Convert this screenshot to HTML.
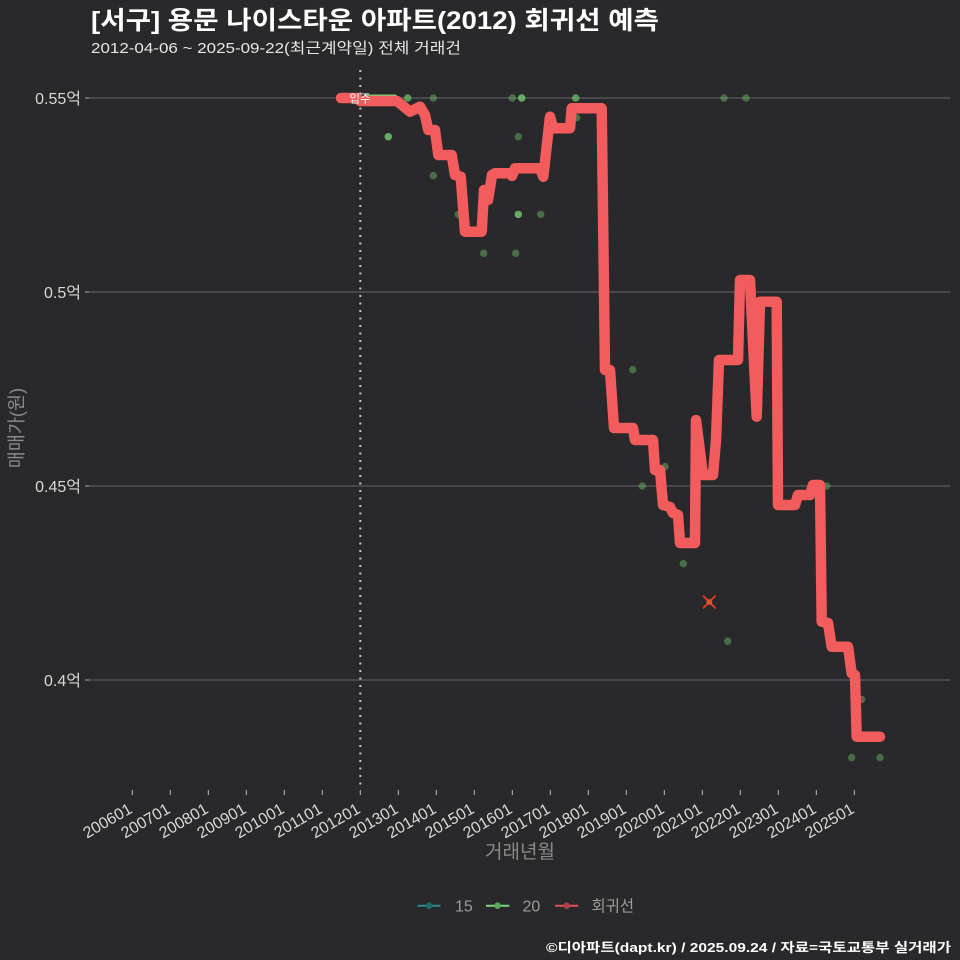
<!DOCTYPE html>
<html><head><meta charset="utf-8"><style>
html,body{margin:0;padding:0;background:#29292b;}
svg{display:block;}
text{font-family:"Liberation Sans","Noto Sans CJK KR",sans-serif;}
</style></head><body>
<svg width="960" height="960" viewBox="0 0 960 960" xmlns="http://www.w3.org/2000/svg">
<rect x="0" y="0" width="960" height="960" fill="#29292b"/>

<!-- titles -->
<text x="91" y="29" font-size="25" font-weight="bold" fill="#ffffff" textLength="568" lengthAdjust="spacingAndGlyphs">[서구] 용문 나이스타운 아파트(2012) 회귀선 예측</text>
<text x="91" y="53" font-size="15" fill="#e6e6e6" textLength="370" lengthAdjust="spacingAndGlyphs">2012-04-06 ~ 2025-09-22(최근계약일) 전체 거래건</text>

<!-- grid -->
<g stroke="#666668" stroke-width="1">
<line x1="89" y1="98" x2="950" y2="98"/>
<line x1="89" y1="292" x2="950" y2="292"/>
<line x1="89" y1="486" x2="950" y2="486"/>
<line x1="89" y1="680" x2="950" y2="680"/>
</g>
<g stroke="#aaaaaa" stroke-width="1">
<line x1="85" y1="98" x2="89" y2="98"/>
<line x1="85" y1="292" x2="89" y2="292"/>
<line x1="85" y1="486" x2="89" y2="486"/>
<line x1="85" y1="680" x2="89" y2="680"/>
</g>
<g font-size="16" fill="#d8d8d8" text-anchor="end">
<text x="81" y="104">0.55억</text>
<text x="81" y="298">0.5억</text>
<text x="81" y="492">0.45억</text>
<text x="81" y="686">0.4억</text>
</g>

<!-- y title -->
<text transform="translate(23,428) rotate(-90)" text-anchor="middle" font-size="18.5" fill="#8a8a8a">매매가(원)</text>

<!-- x ticks -->
<g stroke="#bbbbbb" stroke-width="1">
<line x1="132.3" y1="790" x2="132.3" y2="795"/>
<line x1="170.3" y1="790" x2="170.3" y2="795"/>
<line x1="208.3" y1="790" x2="208.3" y2="795"/>
<line x1="246.3" y1="790" x2="246.3" y2="795"/>
<line x1="284.3" y1="790" x2="284.3" y2="795"/>
<line x1="322.3" y1="790" x2="322.3" y2="795"/>
<line x1="360.3" y1="790" x2="360.3" y2="795"/>
<line x1="398.3" y1="790" x2="398.3" y2="795"/>
<line x1="436.3" y1="790" x2="436.3" y2="795"/>
<line x1="474.3" y1="790" x2="474.3" y2="795"/>
<line x1="512.3" y1="790" x2="512.3" y2="795"/>
<line x1="550.3" y1="790" x2="550.3" y2="795"/>
<line x1="588.3" y1="790" x2="588.3" y2="795"/>
<line x1="626.3" y1="790" x2="626.3" y2="795"/>
<line x1="664.3" y1="790" x2="664.3" y2="795"/>
<line x1="702.3" y1="790" x2="702.3" y2="795"/>
<line x1="740.3" y1="790" x2="740.3" y2="795"/>
<line x1="778.3" y1="790" x2="778.3" y2="795"/>
<line x1="816.3" y1="790" x2="816.3" y2="795"/>
<line x1="854.3" y1="790" x2="854.3" y2="795"/>
</g>
<g font-size="16" fill="#d8d8d8" text-anchor="end">
<text transform="translate(133.3,812) rotate(-30)">200601</text>
<text transform="translate(171.3,812) rotate(-30)">200701</text>
<text transform="translate(209.3,812) rotate(-30)">200801</text>
<text transform="translate(247.3,812) rotate(-30)">200901</text>
<text transform="translate(285.3,812) rotate(-30)">201001</text>
<text transform="translate(323.3,812) rotate(-30)">201101</text>
<text transform="translate(361.3,812) rotate(-30)">201201</text>
<text transform="translate(399.3,812) rotate(-30)">201301</text>
<text transform="translate(437.3,812) rotate(-30)">201401</text>
<text transform="translate(475.3,812) rotate(-30)">201501</text>
<text transform="translate(513.3,812) rotate(-30)">201601</text>
<text transform="translate(551.3,812) rotate(-30)">201701</text>
<text transform="translate(589.3,812) rotate(-30)">201801</text>
<text transform="translate(627.3,812) rotate(-30)">201901</text>
<text transform="translate(665.3,812) rotate(-30)">202001</text>
<text transform="translate(703.3,812) rotate(-30)">202101</text>
<text transform="translate(741.3,812) rotate(-30)">202201</text>
<text transform="translate(779.3,812) rotate(-30)">202301</text>
<text transform="translate(817.3,812) rotate(-30)">202401</text>
<text transform="translate(855.3,812) rotate(-30)">202501</text>
</g>
<text x="520" y="858" text-anchor="middle" font-size="19" fill="#8a8a8a">거래년월</text>

<!-- move-in dotted line -->
<line x1="360.3" y1="70" x2="360.3" y2="790" stroke="#c8c8c8" stroke-width="2" stroke-dasharray="2 5.5"/>

<!-- green series line -->
<line x1="366" y1="96.5" x2="395" y2="96.5" stroke="#7cd47c" stroke-width="4" stroke-linecap="round"/>

<!-- points -->
<g fill="#74cc70" fill-opacity="0.42">
<circle cx="407.7" cy="98" r="3.7"/><circle cx="407.7" cy="98" r="3.7"/>
<circle cx="433.3" cy="98" r="3.7"/>
<circle cx="512.3" cy="98" r="3.7"/>
<circle cx="521.7" cy="98" r="3.7"/><circle cx="521.7" cy="98" r="3.7"/><circle cx="521.7" cy="98" r="3.7"/>
<circle cx="575.7" cy="98" r="3.7"/><circle cx="575.7" cy="98" r="3.7"/>
<circle cx="576.7" cy="117.7" r="3.7"/>
<circle cx="388.3" cy="136.7" r="3.7"/><circle cx="388.3" cy="136.7" r="3.7"/><circle cx="388.3" cy="136.7" r="3.7"/>
<circle cx="518.3" cy="136.7" r="3.7"/>
<circle cx="433.3" cy="175.6" r="3.7"/>
<circle cx="458.3" cy="214.4" r="3.7"/>
<circle cx="518.3" cy="214.4" r="3.7"/><circle cx="518.3" cy="214.4" r="3.7"/><circle cx="518.3" cy="214.4" r="3.7"/>
<circle cx="540.7" cy="214.4" r="3.7"/>
<circle cx="483.7" cy="253.2" r="3.7"/>
<circle cx="515.7" cy="253.2" r="3.7"/>
<circle cx="632.7" cy="369.6" r="3.7"/>
<circle cx="665" cy="466.6" r="3.7"/>
<circle cx="642.3" cy="486" r="3.7"/>
<circle cx="683.3" cy="563.6" r="3.7"/>
<circle cx="727.7" cy="641.2" r="3.7"/>
<circle cx="724" cy="98" r="3.7"/>
<circle cx="746" cy="98" r="3.7"/>
<circle cx="826.7" cy="486" r="3.7"/>
<circle cx="861.7" cy="699.4" r="3.7"/>
<circle cx="851.7" cy="757.6" r="3.7"/>
<circle cx="880" cy="757.6" r="3.7"/>
</g>

<!-- regression line -->
<path fill="none" stroke="#f25c5c" stroke-width="10.5" stroke-linecap="round" stroke-linejoin="round"
d="M341 98 L357 98 L360 101 L397 101 L410 111.7 L420 106.7 L425 115 L428.3 130 L435 130 L438.3 155 L451.7 155 L455 175 L460.7 176.7 L465 231.7 L481.7 231.7 L484 190 L488 200 L492 175 L495 173.3 L510 173.3 L512 176 L515 168.3 L540 168.3 L543.3 176.7 L550 116.7 L553.3 128.3 L570 128.3 L571.7 108.3 L601.7 108.3 L605 370 L610 370 L614 428 L633 428 L635 440 L653 440 L655 470 L660 470 L663 505 L670 507 L673 513 L678 515 L680 543 L695 543 L696 420 L703 475 L713 475 L716 440 L719 360 L738 360 L740 280 L750 280 L756.7 416.7 L760 301.7 L776.7 301.7 L778 505 L795 505 L798 495 L810 495 L813 485 L820 485 L821.7 621.7 L828 623 L831.7 646.7 L848 646.7 L851.7 673.3 L855 675 L856.7 736.7 L880 736.7"/>

<!-- move-in label -->
<text x="360" y="102.5" text-anchor="middle" font-size="11.5" fill="#ffffff">입주</text>

<!-- red X marker -->
<g stroke="#d63a2a" stroke-width="2" stroke-linecap="round">
<line x1="703.5" y1="596.2" x2="715" y2="607.8"/>
<line x1="715" y1="596.2" x2="703.5" y2="607.8"/>
</g>
<circle cx="709.3" cy="602" r="3" fill="#e85a2a" fill-opacity="0.8"/>

<!-- legend -->
<line x1="417.5" y1="905.7" x2="440.5" y2="905.7" stroke="#2a8a88" stroke-width="2"/>
<circle cx="429" cy="905.7" r="3.3" fill="#1f6b69"/>
<text x="455" y="911.5" font-size="16" fill="#9c9c9c">15</text>
<line x1="486" y1="905.7" x2="509.3" y2="905.7" stroke="#7ad67a" stroke-width="2"/>
<circle cx="497.6" cy="905.7" r="3.3" fill="#5aa85a"/>
<text x="522.5" y="911.5" font-size="16" fill="#9c9c9c">20</text>
<line x1="555" y1="905.7" x2="578.3" y2="905.7" stroke="#e0505a" stroke-width="2"/>
<circle cx="566.6" cy="905.7" r="3.3" fill="#b04048"/>
<text x="591.5" y="911.5" font-size="16" fill="#9c9c9c" textLength="42.5" lengthAdjust="spacingAndGlyphs">회귀선</text>

<!-- footer -->
<text x="951" y="952" text-anchor="end" font-size="13" font-weight="bold" fill="#ffffff" textLength="405" lengthAdjust="spacingAndGlyphs">©디아파트(dapt.kr) / 2025.09.24 / 자료=국토교통부 실거래가</text>
</svg>
</body></html>
